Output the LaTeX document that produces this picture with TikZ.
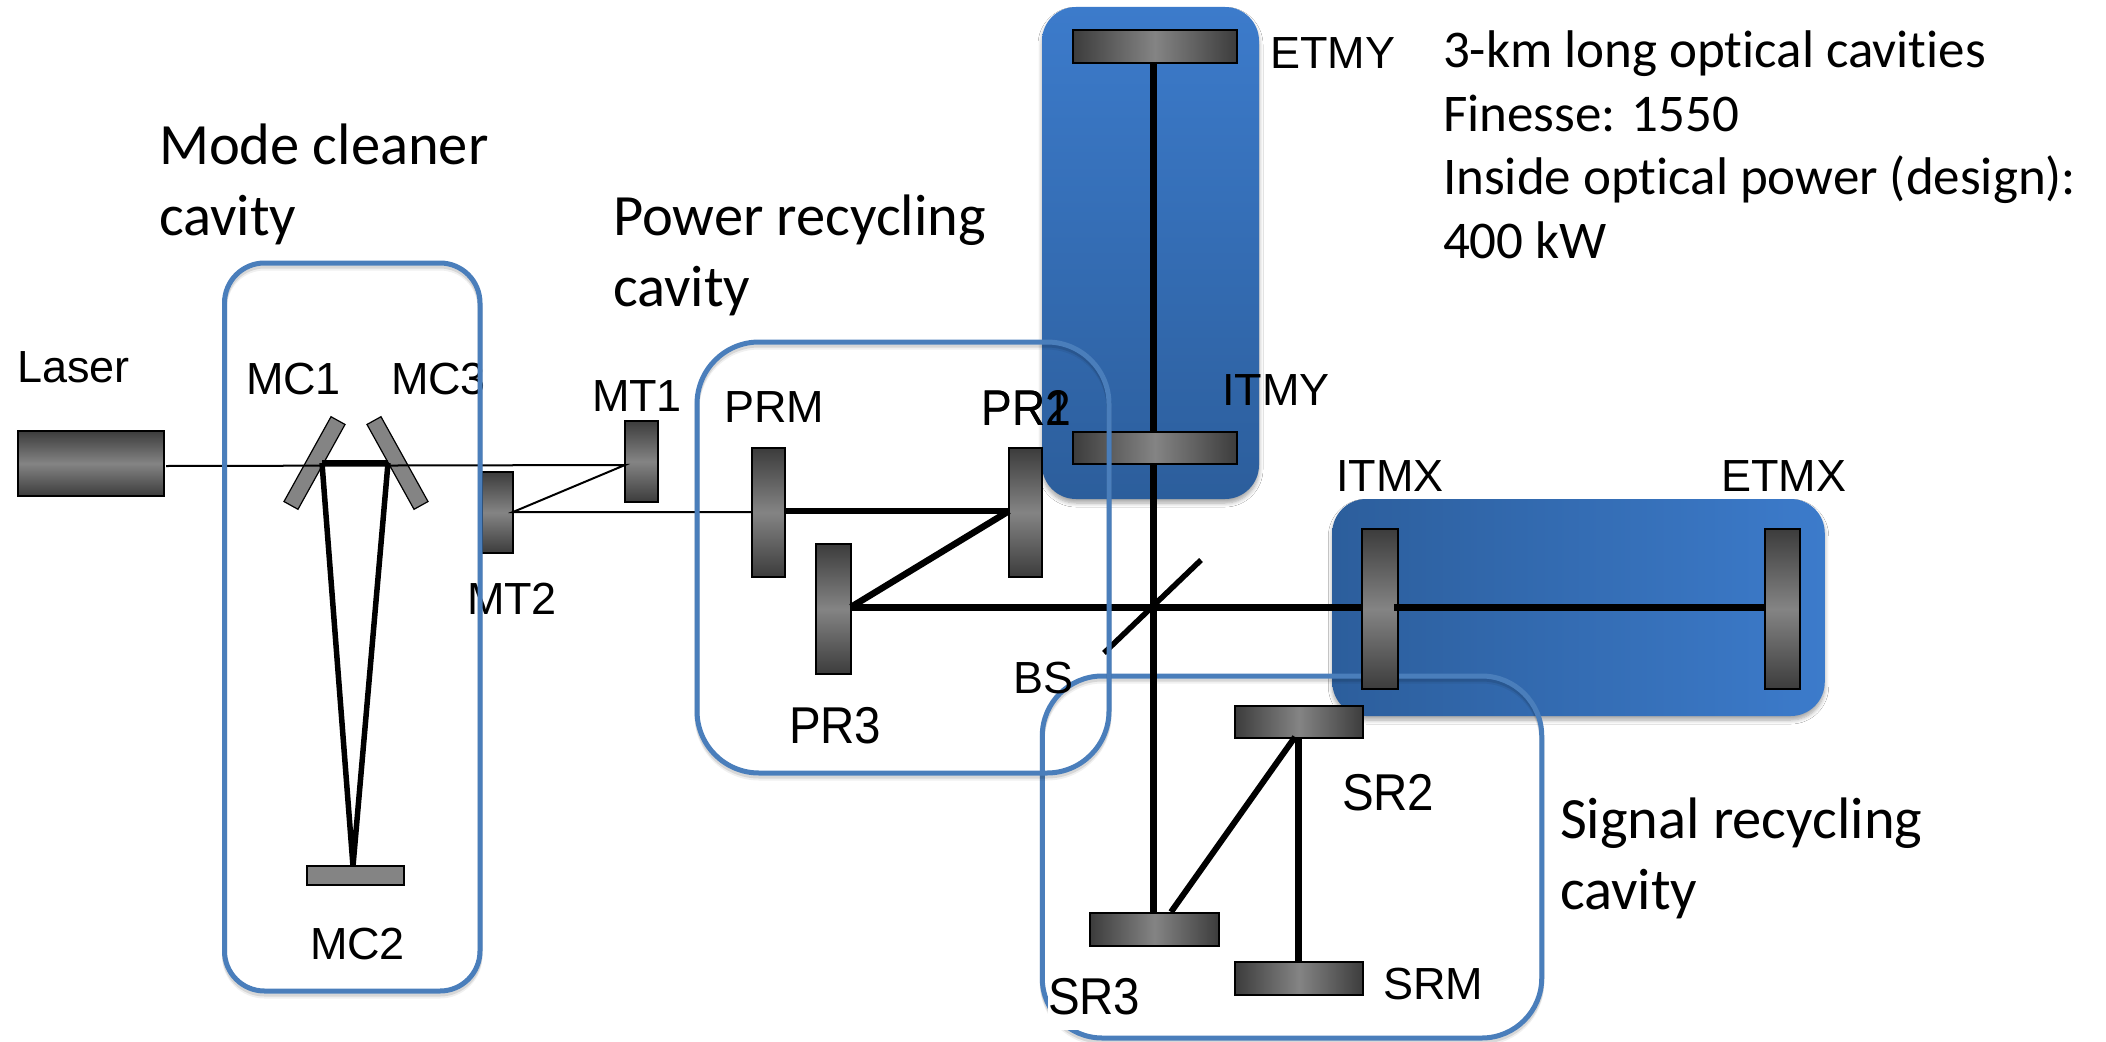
\documentclass[tikz,border=0pt]{standalone}
\usepackage{fontspec}
\usepackage{graphicx}
\setmainfont{Liberation Sans}
\newfontfamily\capfont[Ligatures=NoCommon]{Carlito}
\newcommand{\talltext}[1]{\scalebox{1}[1.09]{#1}}
\usetikzlibrary{shadows,shadows.blur}
\definecolor{cavline}{HTML}{4A7EBB}
\definecolor{armtop}{HTML}{3C7BCB}
\definecolor{armlow}{HTML}{2C5E9C}
\definecolor{mirdark}{HTML}{3C3C3C}
\definecolor{mirmid}{HTML}{848484}
\tikzset{
  px/.style={x=1pt,y=-1pt},
  armbox/.style={rounded corners=34pt,inner sep=0pt,outer sep=0pt,
    blur shadow={shadow xshift=0pt,shadow yshift=-4pt,shadow blur radius=4pt,shadow blur steps=6,shadow opacity=35}},
  cavbox/.style={draw=cavline,line width=5pt,rounded corners=#1,inner sep=0pt,outer sep=0pt,
    general shadow={shadow xshift=0pt,shadow yshift=-3pt,draw=black,opacity=.10,fill=none},
    general shadow={shadow xshift=0pt,shadow yshift=-5pt,draw=black,opacity=.06,fill=none}},
  mirrorbase/.style={draw=black,line width=2pt,inner sep=0pt,outer sep=0pt},
  mirrorh/.style={mirrorbase,left color=mirdark,right color=mirdark,middle color=mirmid},
  mirrorv/.style={mirrorbase,top color=mirdark,bottom color=mirdark,middle color=mirmid},
  plainmirror/.style={draw=black,line width=1.2pt,fill=mirmid,inner sep=0pt,outer sep=0pt},
  thinbeam/.style={draw=black,line width=2pt},
  beam/.style={draw=black,line width=7pt},
  mcbeam/.style={draw=black,line width=5.5pt},
  lbl/.style={anchor=base west,inner sep=0pt,outer sep=0pt,font=\fontsize{45}{50}\selectfont},
  biglbl/.style={anchor=base west,inner sep=0pt,outer sep=0pt,font=\fontsize{47.5}{50}\selectfont},
  caption/.style={anchor=base west,inner sep=0pt,outer sep=0pt,align=left,font=\capfont\fontsize{58.5}{71}\selectfont},
  notes/.style={anchor=base west,inner sep=0pt,outer sep=0pt,align=left,font=\capfont\fontsize{53}{63.5}\selectfont},
}
\begin{document}
\begin{tikzpicture}[px]
\useasboundingbox (0,0) rectangle (2106,1041);
\fill[white] (0,0) rectangle (2106,1041);

% arm cavities
\node[armbox,minimum width=217pt,minimum height=492pt,top color=armtop,bottom color=armlow] (Ybox) at (1150.5,253) {};
\node[armbox,minimum width=492.5pt,minimum height=217pt,left color=armlow,right color=armtop] (Xbox) at (1578.5,607.5) {};

% signal recycling outline lies under mirrors and beams
\node[cavbox=60pt,minimum width=499.5pt,minimum height=362pt] (SRbox) at (1292,857) {};
\node[biglbl,fill=white,text height=44pt,text depth=16pt,text width=92pt] (SR3lab) at (1048,1014) {\talltext{SR3}};

% mirrors
\node[mirrorv,minimum width=146pt,minimum height=65pt] (laser) at (91,463.5) {};
\node[plainmirror,minimum width=16pt,minimum height=97pt,rotate=-29] (MC1) at (314.5,463) {};
\node[plainmirror,minimum width=16pt,minimum height=97pt,rotate=29] (MC3) at (397.5,463) {};
\node[plainmirror,minimum width=97pt,minimum height=19pt] (MC2) at (355.5,875.5) {};
\node[mirrorv,minimum width=33pt,minimum height=81pt] (MT1) at (641.5,461.5) {};
\node[mirrorv,minimum width=31pt,minimum height=81pt] (MT2) at (497.5,512.5) {};
\node[mirrorv,minimum width=33pt,minimum height=129pt] (PRM) at (768.5,512.5) {};
\node[mirrorv,minimum width=33pt,minimum height=129pt] (PR2) at (1025.5,512.5) {};
\node[mirrorv,minimum width=35pt,minimum height=130pt] (PR3) at (833.5,609) {};
\node[mirrorh,minimum width=164pt,minimum height=33pt] (ETMY) at (1155,46.5) {};
\node[mirrorh,minimum width=164pt,minimum height=32pt] (ITMY) at (1155,448) {};
\node[mirrorv,minimum width=36pt,minimum height=160pt] (ITMX) at (1380,609) {};
\node[mirrorv,minimum width=35pt,minimum height=160pt] (ETMX) at (1782.5,609) {};
\node[mirrorh,minimum width=128.5pt,minimum height=32pt] (SR2) at (1299,722) {};
\node[mirrorh,minimum width=129pt,minimum height=33pt] (SR3) at (1154.5,929.5) {};
\node[mirrorh,minimum width=128pt,minimum height=33pt] (SRM) at (1299,978.5) {};

% reflection spots
\coordinate (mc1s) at (322,463);
\coordinate (mc3s) at (388,463);
\coordinate (mc2s) at (353,866);
\coordinate (laserbeam) at (166,466);
\coordinate (mt1s) at (625,465);
\coordinate (mt2s) at (513,512);
\coordinate (prmin) at (752,512);
\coordinate (prmout) at (785,511);
\coordinate (pr2s) at (1009,511);
\coordinate (pr3s) at (851,607);
\coordinate (bsA) at (1201,560);
\coordinate (bsB) at (1104,653);
\coordinate (itmxin) at (1363,607);
\coordinate (itmxout) at (1394,607);
\coordinate (etmxs) at (1765,607);
\coordinate (etmys) at (1153.5,62);
\coordinate (itmytop) at (1153.5,432);
\coordinate (itmybot) at (1153.5,464);
\coordinate (sr3top) at (1153.5,913);
\coordinate (sr3diag) at (1171,912);
\coordinate (sr2s) at (1295,737);
\coordinate (sr2b) at (1298.5,738);
\coordinate (srmtop) at (1298.5,962);

% beams
\draw[thinbeam] (laserbeam) -- (mt1s) -- (mt2s) -- (prmin);
\draw[mcbeam,line join=miter] (mc1s) -- (mc3s);
\draw[mcbeam] (mc1s) -- (mc2s) -- (mc3s);
\draw[beam,line width=6pt] (prmout) -- (pr2s);
\draw[beam,line width=6.5pt] (pr2s) -- (pr3s);
\draw[beam] (pr3s) -- (itmxin);
\draw[beam] (itmxout) -- (etmxs);
\draw[beam] (etmys) -- (itmytop);
\draw[beam] (itmybot) -- (sr3top);
\draw[beam,line width=5.5pt] (bsA) -- (bsB);
\draw[beam,line width=6pt] (sr3diag) -- (sr2s);
\draw[beam] (sr2b) -- (srmtop);

% labels under the outlines
\node[lbl] (MC1lab) at (246,394) {MC1};
\node[lbl] (MC3lab) at (391,394) {MC3};
\node[lbl] (MT2lab) at (467,614) {MT2};
\node[lbl] (BSlab) at (1013,693) {BS};

% outlines
\node[cavbox=40pt,minimum width=255.5pt,minimum height=728pt] (MCbox) at (352.25,627) {};
\node[cavbox=62pt,minimum width=412pt,minimum height=431pt] (PRbox) at (903,557.5) {};

% labels
\node[lbl] (laserlab) at (17,382) {Laser};
\node[lbl] (MC2lab) at (310,959) {MC2};
\node[lbl] (MT1lab) at (592,411) {MT1};
\node[lbl] (PRMlab) at (724,422) {PRM};
\node[lbl,font=\fontsize{46}{50}\selectfont] (PR1lab) at (981.5,425) {\talltext{PR1}};
\node[lbl,font=\fontsize{46}{50}\selectfont] (PR2lab) at (981.5,425) {\talltext{PR2}};
\node[biglbl] (PR3lab) at (789,743) {\talltext{PR3}};
\node[lbl] (ETMYlab) at (1270,68) {ETMY};
\node[lbl] (ITMYlab) at (1222,405) {ITMY};
\node[lbl] (ITMXlab) at (1336,491) {ITMX};
\node[lbl] (ETMXlab) at (1721,491) {ETMX};
\node[biglbl] (SR2lab) at (1342,810) {\talltext{SR2}};
\node[lbl] (SRMlab) at (1383,999) {SRM};

\node[caption] (mccap) at (159,235) {Mode cleaner\\cavity};
\node[caption] (prcap) at (613,306) {Power recycling\\cavity};
\node[caption] (srcap) at (1560,909) {Signal recycling\\cavity};
\node[notes] (info) at (1443,258) {3-km long optical cavities\\Finesse: 1550\\Inside optical power (design):\\400 kW};
\end{tikzpicture}
\end{document}
